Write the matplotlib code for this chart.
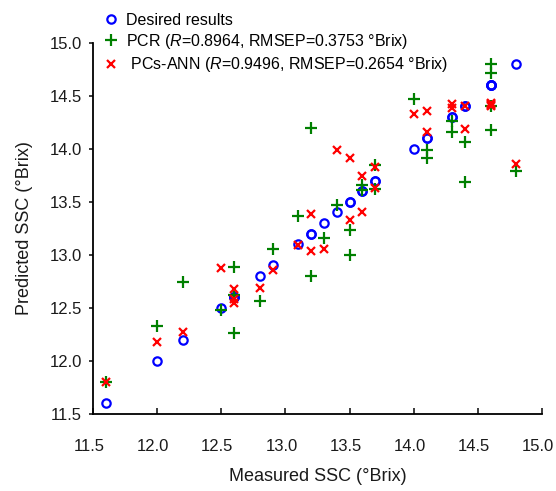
import matplotlib
matplotlib.use("Agg")
import matplotlib.pyplot as plt
import matplotlib.transforms as mtransforms
import numpy as np

plt.rcParams['font.family'] = ['Liberation Sans', 'DejaVu Sans']
plt.rcParams['mathtext.fontset'] = 'custom'
plt.rcParams['mathtext.rm'] = 'Liberation Sans'
plt.rcParams['mathtext.it'] = 'Liberation Sans:italic'

# measured SSC of each sample (x) and the two model predictions
measured = [11.6, 12.0, 12.2, 12.5, 12.6, 12.6, 12.6, 12.8, 12.9, 13.1,
            13.2, 13.2, 13.3, 13.4, 13.5, 13.5, 13.6, 13.6, 13.7, 13.7,
            14.0, 14.1, 14.1, 14.3, 14.3, 14.4, 14.4, 14.6, 14.6, 14.6,
            14.6, 14.8]
pcr = [11.80, 12.33, 12.74, 12.48, 12.89, 12.62, 12.26, 12.57, 13.06, 13.37,
       14.20, 12.80, 13.16, 13.47, 13.23, 13.00, 13.66, 13.61, 13.85, 13.62,
       14.47, 13.99, 13.91, 14.26, 14.16, 14.06, 13.69, 14.80, 14.71, 14.40,
       14.18, 13.79]
ann = [11.80, 12.18, 12.27, 12.88, 12.68, 12.58, 12.55, 12.69, 12.86, 13.09,
       13.39, 13.04, 13.06, 13.99, 13.33, 13.91, 13.74, 13.40, 13.83, 13.63,
       14.33, 14.36, 14.16, 14.42, 14.38, 14.40, 14.19, 14.43, 14.40, 14.41,
       14.42, 13.86]

labels = ['Desired results',
          'PCR ($R$=0.8964, RMSEP=0.3753 °Brix)',
          ' PCs-ANN ($R$=0.9496, RMSEP=0.2654 °Brix)']
ticks = [11.5, 12.0, 12.5, 13.0, 13.5, 14.0, 14.5, 15.0]

fig = plt.figure(figsize=(5.56, 4.91), dpi=100)
ax = fig.add_axes([0.1673, 0.1568, 0.8075, 0.7562])

ax.plot(measured, measured, 'o', ms=6, mfc='none', mec='#0000ff', mew=1.6,
        label=labels[0])
ax.plot(measured, pcr, '+', ms=8, mec='#008000', mew=1.6, label=labels[1])
ax.plot(measured, ann, 'x', ms=5.5, mec='#ff0000', mew=1.6, label=labels[2])

ax.set_xlim(11.5, 15.0)
ax.set_ylim(11.5, 15.0)
ax.set_xticks(ticks)
ax.set_yticks(ticks)
ax.set_xticklabels(['%.1f' % t for t in ticks])
ax.set_yticklabels(['%.1f' % t for t in ticks])

for s in ['top', 'right']:
    ax.spines[s].set_visible(False)
for s in ['left', 'bottom']:
    ax.spines[s].set_linewidth(1.3)

ax.tick_params(axis='x', direction='in', length=4, width=1.2, pad=18,
               labelsize=12, colors='#1a1a1a')
ax.tick_params(axis='y', direction='out', length=3, width=1.2, pad=5,
               labelsize=12, colors='#1a1a1a')

# x tick labels sit a little left of their ticks in the original
shift = mtransforms.ScaledTranslation(-4 / 100, 0, fig.dpi_scale_trans)
for lab in ax.get_xticklabels():
    lab.set_transform(lab.get_transform() + shift)

ax.set_xlabel('Measured SSC (°Brix)', fontsize=13, color='#1a1a1a', labelpad=10)
ax.set_ylabel('Predicted SSC (°Brix)', fontsize=13, color='#1a1a1a', labelpad=12)

fig.legend(loc='upper left', bbox_to_anchor=(0.181, 0.981), frameon=False,
           fontsize=11.5, handlelength=0.9, handletextpad=0.5,
           labelspacing=0.28, borderpad=0.2, borderaxespad=0)

fig.savefig('out.png', dpi=100)
